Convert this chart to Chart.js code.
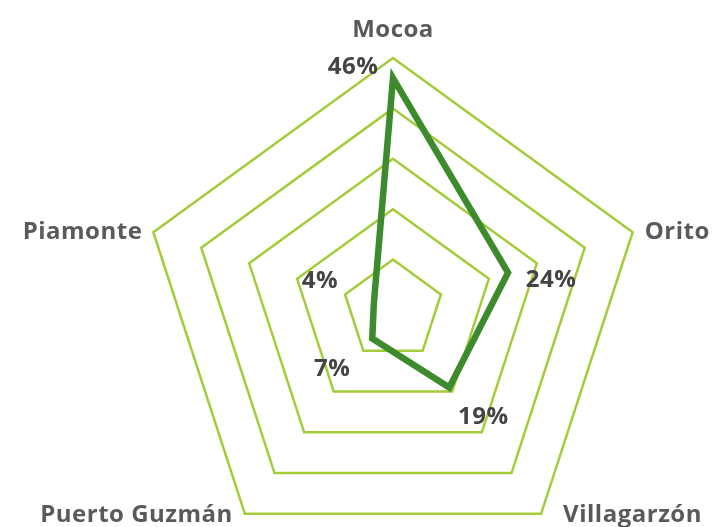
<!DOCTYPE html>
<html>
<head>
<meta charset="utf-8">
<script src="https://cdn.jsdelivr.net/npm/chart.js@4/dist/chart.umd.min.js"></script>
<style>
	html, body { margin: 0; padding: 0; background: #fff; overflow: hidden; }
	#wrap { position: relative; width: 715px; height: 562px; }
</style>
</head>
<body>
<div id="wrap"><canvas id="radar"></canvas></div>
<script>
	var municipios = [ 'Mocoa', 'Orito', 'Villagarzón', 'Puerto Guzmán', 'Piamonte' ];
	var porcentajes = [ 46, 24, 19, 7, 4 ];
	var escalaMax = 50;
	var escalaPaso = 10;

	/* ═══ LABELS ═══ */

	// offsets from the outer vertex (axis names) and from the data point (values)
	var axisLabelStyle = [
		{ dx: 0,   dy: -28, align: 'center' },
		{ dx: 12,  dy: 0,   align: 'left' },
		{ dx: 22,  dy: 1,   align: 'left' },
		{ dx: -12, dy: 1,   align: 'right' },
		{ dx: -11, dy: 0,   align: 'right' }
	];
	var valueLabelStyle = [
		{ dx: -40, dy: -11 },
		{ dx: 43,  dy: 8 },
		{ dx: 34,  dy: 30 },
		{ dx: -40, dy: 31 },
		{ dx: -54, dy: -23 }
	];

	var labelsPlugin = {
		id: 'radarLabels',
		afterDatasetsDraw: function( chart ) {
			var ctx = chart.ctx;
			var scale = chart.scales.r;
			ctx.save();
			ctx.textBaseline = 'middle';

			ctx.font = 'bold 24px "Open Sans", sans-serif';
			ctx.letterSpacing = '0.5px';
			ctx.fillStyle = '#5a5a5a';
			for ( var i = 0; i < municipios.length; i++ ) {
				var p = scale.getPointPosition( i, scale.drawingArea );
				var s = axisLabelStyle[i];
				ctx.textAlign = s.align;
				ctx.fillText( municipios[i], p.x + s.dx, p.y + s.dy );
			}

			ctx.font = 'bold 24px "Open Sans", sans-serif';
			ctx.letterSpacing = '0.5px';
			ctx.fillStyle = '#444444';
			ctx.textAlign = 'center';
			for ( var j = 0; j < porcentajes.length; j++ ) {
				var q = scale.getPointPositionForValue( j, porcentajes[j] );
				var v = valueLabelStyle[j];
				ctx.fillText( porcentajes[j] + '%', q.x + v.dx, q.y + v.dy );
			}
			ctx.restore();
		}
	};

	new Chart( document.getElementById( 'radar' ).getContext( '2d' ), {
		type: 'radar',
		data: {
			labels: municipios,
			datasets: [{
				data: porcentajes,
				borderColor: '#3d8b2c',
				borderWidth: 6.5,
				borderJoinStyle: 'miter',
				backgroundColor: 'transparent',
				fill: false,
				tension: 0,
				pointRadius: 0,
				pointHoverRadius: 0
			}]
		},
		options: {
			responsive: true,
			maintainAspectRatio: false,
			animation: false,
			layout: { padding: { top: 58, left: 72, right: 0, bottom: 0 } },
			plugins: {
				legend: { display: false },
				tooltip: { enabled: false }
			},
			scales: {
				r: {
					min: 0,
					max: escalaMax,
					ticks: { display: false, stepSize: escalaPaso },
					grid: { color: '#a4cc3a', lineWidth: 2.5 },
					angleLines: { display: false },
					pointLabels: { display: false }
				}
			}
		},
		plugins: [ labelsPlugin ]
	});
</script>
</body>
</html>
